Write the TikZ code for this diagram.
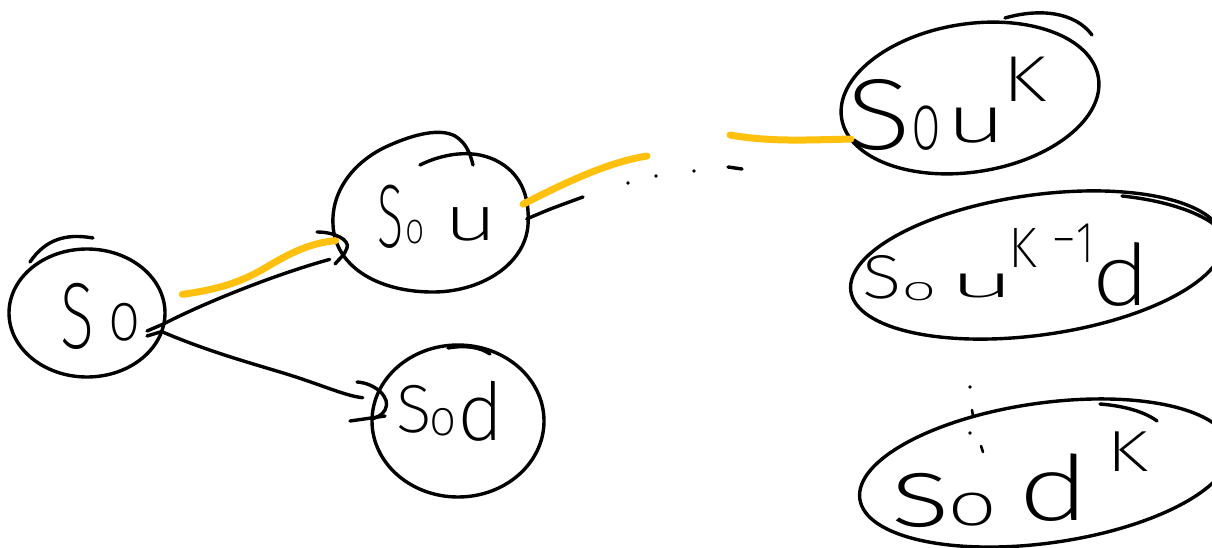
\documentclass[tikz,border=0pt]{standalone}
\usepackage{graphicx}
\usepackage{fontspec}
\usetikzlibrary{shapes.geometric,calc}
\IfFontExistsTF{Fira Sans ExtraLight}
  {\newfontfamily\handfont{Fira Sans ExtraLight}}
  {\IfFontExistsTF{Fira Sans Light}
     {\newfontfamily\handfont{Fira Sans Light}}
     {\newfontfamily\handfont{Fira Sans}}}
\definecolor{marker}{HTML}{FFC10E}
% one hand-set letter: offset, raise, horizontal stretch, size, letter
\newcommand\hwglyph[5]{\rlap{\hspace*{#1}\raisebox{#2}{\scalebox{#3}[1]{\fontsize{#4}{#4}\selectfont #5}}}}
\begin{document}
\begin{tikzpicture}[x=1pt,y=-1pt,
  pen/.style={line width=3.4pt,line cap=round,line join=round},
  hl/.style={draw=marker,line width=7pt,line cap=round},
  state/.style={pen,draw,ellipse,inner sep=0pt,outer sep=0pt},
  hand/.style={inner sep=0pt,anchor=base west,font=\handfont},
  dot/.style={fill,circle,inner sep=0pt,minimum size=3.6pt}]
\useasboundingbox (0,0) rectangle (1212,548);
\fill[white] (0,0) rectangle (1212,548);

% states of the price tree
\node[state,minimum width=156pt,minimum height=128pt] (s0) at (87,313) {};
\node[state,draw=none,minimum width=194pt,minimum height=142pt] (s0u) at (430,224) {};
\node[state,minimum width=172pt,minimum height=152pt] (s0d) at (458,421) {};
\node[state,minimum width=260pt,minimum height=148pt,rotate=9] (e1) at (970,98) {};
\node[state,minimum width=376pt,minimum height=140pt,rotate=8] (e2) at (1037,265) {};
\node[state,minimum width=374pt,minimum height=140pt,rotate=8] (e3) at (1045,473) {};

% loop of the up state, drawn past its start
\draw[pen] (420,165) .. controls (440,155) and (470,148) .. (495,160)
  .. controls (520,172) and (530,195) .. (528,225)
  .. controls (525,265) and (480,293) .. (430,292)
  .. controls (375,291) and (335,265) .. (333,225)
  .. controls (331,190) and (355,160) .. (390,145)
  .. controls (415,134) and (440,128) .. (455,136)
  .. controls (465,142) and (470,152) .. (473,165);

% pen overlaps where the other loops were closed
\draw[pen] (30,262) .. controls (45,240) and (65,233) .. (93,238);
\draw[pen] (448,348) .. controls (465,345) and (480,347) .. (490,354);
\draw[pen] (1005,18) .. controls (1040,8) and (1075,12) .. (1092,35);
\draw[pen] (1122,196) .. controls (1160,200) and (1195,210) .. (1215,225);
\draw[pen] (1100,404) .. controls (1125,406) and (1145,412) .. (1157,421);

% labels
\node[hand] (t0) at (60,348) {\hwglyph{0pt}{0pt}{0.67}{94}{S}\hwglyph{48.6pt}{8pt}{0.81}{70}{o}\hspace*{80pt}};
\node[hand] (t1) at (377,247) {\hwglyph{0pt}{0pt}{0.54}{90}{S}\hwglyph{28pt}{4pt}{0.77}{44}{o}\hwglyph{66pt}{7pt}{1.51}{63}{u}\hspace*{115pt}};
\node[hand] (t2) at (396,432) {\hwglyph{0pt}{0pt}{0.97}{68}{S}\hwglyph{33pt}{-3pt}{0.94}{51}{o}\hwglyph{61pt}{-8pt}{1.0}{80}{d}\hspace*{110pt}};
\node[hand] (t3) at (846,150) {\hwglyph{0pt}{0pt}{1.2}{101}{S}\hwglyph{65pt}{0pt}{0.64}{82}{o}\hwglyph{99pt}{7pt}{1.62}{66}{u}\hwglyph{156.6pt}{48pt}{1.27}{65}{K}\hspace*{205pt}};
\node[hand] (t4) at (862.6,298) {\hwglyph{0pt}{0pt}{1.18}{62}{S}\hwglyph{38.7pt}{-2pt}{1.8}{34}{o}\hwglyph{86pt}{1pt}{2.6}{45}{u}\hwglyph{145.6pt}{31pt}{0.94}{57}{K}\hwglyph{188pt}{41pt}{1.2}{57}{-}\hwglyph{214pt}{36pt}{0.75}{58}{1}\hwglyph{229pt}{-7pt}{1.2}{85}{d}\hspace*{285pt}};
\node[hand] (t5) at (890.5,526) {\hwglyph{0pt}{0pt}{1.3}{100}{s}\hwglyph{57pt}{1pt}{1.45}{61}{o}\hwglyph{127pt}{6pt}{1.4}{90}{d}\hwglyph{215.5pt}{55pt}{1.35}{58}{K}\hspace*{260pt}};

% highlighted up-path
\coordinate (hlEnd) at (647,156);
\coordinate (hlStart) at (730,135);
\draw[hl,shorten <=20pt] (s0.12) .. controls (215,290) and (240,283) .. (265,268) .. controls (290,253) and (310,243) .. (s0u.190);
\draw[hl] (s0u.12) .. controls (570,180) and (610,162) .. (hlEnd);
\draw[hl] (hlStart) .. controls (770,142) and (805,140) .. (e1.190);

% branches out of S0
\draw[pen,shorten >=14pt] (147,331) -- (s0.-8) .. controls (200,305) and (270,276) .. (s0u.200);
\draw[pen] (317,232) .. controls (335,232) and (350,240) .. (347,248) .. controls (345,255) and (338,260) .. (335,264);
\draw[pen,shorten >=13pt] (147,336) -- (s0.-14) .. controls (205,350) and (240,360) .. (280,372) .. controls (320,384) and (345,396) .. (s0d.165);
\draw[pen] (357,382) .. controls (375,383) and (392,398) .. (385,410) .. controls (382,415) and (378,417) .. (372,419);
\draw[pen] (350,421) -- (385,416);

% next step out of S0u and the elided levels
\coordinate (upEnd) at (583,197);
\draw[pen] (s0u.3) .. controls (550,209) .. (upEnd);
\node[dot] (d1) at (628,183) {};
\node[dot] (d2) at (656,176) {};
\node[dot] (d3) at (694,171) {};
\draw[pen] (728,167) -- (742,169);

% vertical ellipsis between the lower states
\node[dot] (v1) at (970,387) {};
\draw[pen,line width=2.6pt] (972,410) -- (973,416);
\node[dot] (v2) at (970,433) {};
\draw[pen,line width=2.6pt] (981,446) -- (983,452);
\end{tikzpicture}
\end{document}
